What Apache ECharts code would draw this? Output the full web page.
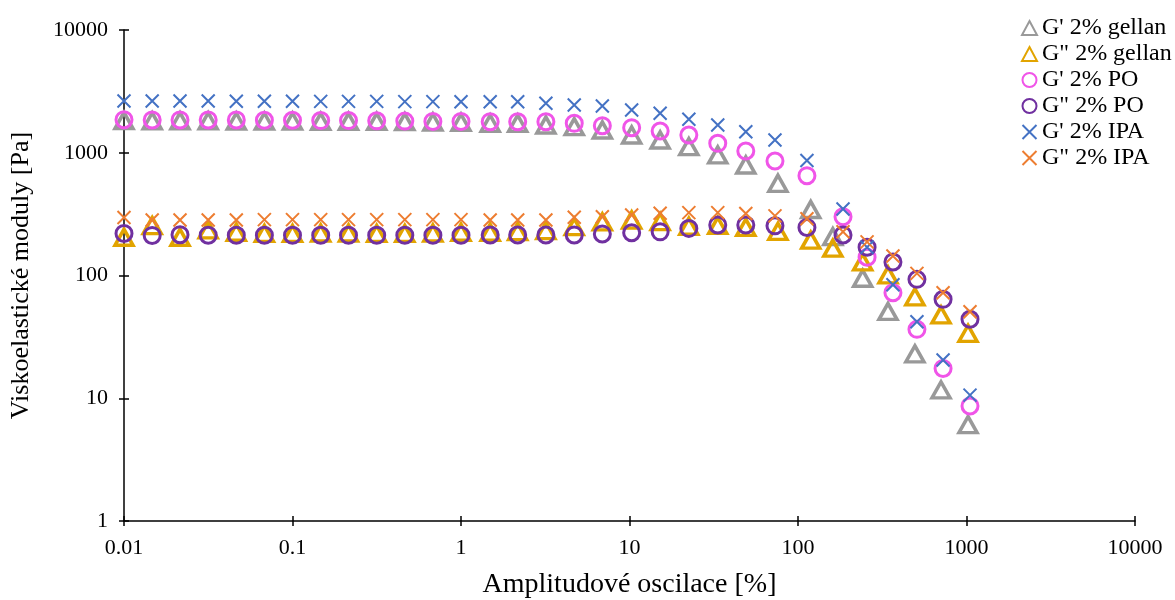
<!DOCTYPE html>
<html>
<head>
<meta charset="utf-8">
<script src="https://cdn.jsdelivr.net/npm/echarts@6/dist/echarts.min.js"></script>
<style>
  html, body { margin: 0; padding: 0; background: #fff; }
  #chart { width: 1175px; height: 600px; }
</style>
</head>
<body>
<div id="chart"></div>
<script>
// amplitude [%] - PO and IPA share the same strain points
const ampl = [0.01, 0.0147, 0.0215, 0.0316, 0.0464, 0.0681, 0.1, 0.147, 0.215, 0.316, 0.464, 0.681, 1,
  1.49, 2.17, 3.19, 4.7, 6.9, 10.3, 15.2, 22.5, 33.4, 49, 73, 113, 185, 257, 366, 508, 726, 1049]
const amplGellan = [0.01, 0.0147, 0.0215, 0.0316, 0.0464, 0.0681, 0.1, 0.147, 0.215, 0.316, 0.464, 0.681, 1,
  1.49, 2.17, 3.19, 4.7, 6.9, 10.3, 15.2, 22.5, 33.4, 49, 76, 119, 161, 242, 342, 494, 706, 1021]

// moduly [Pa]
const gpGellan = [1830, 1820, 1820, 1820, 1810, 1810, 1810, 1800, 1800, 1800, 1790, 1780, 1770,
  1738, 1738, 1683, 1631, 1532, 1395, 1270, 1120, 960, 795, 564, 345, 207, 95, 51, 23, 11.7, 6.1]
const gppGellan = [205, 255, 205, 235, 225, 220, 220, 222, 222, 220, 220, 222, 225,
  225, 228, 232, 250, 273, 283, 275, 252, 256, 247, 229, 194, 167, 129, 101, 67, 47.7, 33.8]
const gpPO = [1860, 1850, 1850, 1850, 1850, 1840, 1840, 1830, 1830, 1820, 1810, 1800, 1800,
  1790, 1790, 1790, 1738, 1661, 1600, 1504, 1395, 1194, 1033, 857, 650, 301, 141, 72.4, 36.4, 17.5, 8.65]
const gppPO = [220, 212, 215, 213, 213, 213, 213, 213, 213, 213, 213, 213, 213,
  214, 214, 214, 214, 218, 223, 227, 242, 258, 258, 254, 246, 214, 170, 129, 93, 64, 44]
const gpIPA = [2640, 2640, 2640, 2640, 2630, 2630, 2630, 2620, 2620, 2620, 2610, 2610, 2600,
  2606, 2600, 2530, 2449, 2404, 2230, 2096, 1873, 1683, 1484, 1270, 865, 348, 170, 84, 42, 20.5, 10.6]
const gppIPA = [297, 283, 283, 283, 283, 285, 285, 285, 285, 285, 285, 285, 285,
  283, 283, 283, 298, 301, 311, 321, 325, 325, 320, 306, 290, 227, 188, 144, 104, 72.4, 50.7]

const xTicks = [0.01, 0.1, 1, 10, 100, 1000, 10000]
const yTicks = [1, 10, 100, 1000, 10000]

const FONT = 'Liberation Serif'
const CROSS = 'path://M0,0L10,10M10,0L0,10'

function pairs(xs, ys) {
  return ys.map((y, i) => [xs[i], y])
}

function fmt(v) {
  return String(+v.toPrecision(6))
}

function mk(name, xs, ys, symbol, size, color, bw) {
  return {
    name: name,
    type: 'scatter',
    symbol: symbol,
    symbolSize: size,
    itemStyle: { color: 'rgba(0,0,0,0)', borderColor: color, borderWidth: bw, opacity: 1 },
    emphasis: { disabled: true },
    data: pairs(xs, ys)
  }
}

const chart = echarts.init(document.getElementById('chart'))

const axisCommon = {
  type: 'log',
  logBase: 10,
  splitLine: { show: false },
  axisLine: { lineStyle: { color: '#000', width: 1.5 } },
  axisTick: { length: 5, lineStyle: { color: '#000', width: 1.5 } }
}

chart.setOption({
  animation: false,
  textStyle: { fontFamily: FONT },
  grid: { left: 124, right: 40, top: 30, bottom: 79, outerBoundsMode: 'none' },
  legend: {
    orient: 'vertical',
    left: 1016,
    top: 11,
    itemWidth: 15,
    itemHeight: 14,
    itemGap: 2,
    textStyle: { fontFamily: FONT, fontSize: 24, color: '#000' }
  },
  xAxis: [
    Object.assign({}, axisCommon, {
      min: xTicks[0],
      max: xTicks[xTicks.length - 1],
      name: 'Amplitudové oscilace [%]',
      nameLocation: 'middle',
      nameGap: 50,
      nameTextStyle: { fontFamily: FONT, fontSize: 28, color: '#000' },
      axisLabel: { fontFamily: FONT, fontSize: 22, color: '#000', margin: 16, formatter: fmt }
    }),
    Object.assign({}, axisCommon, {
      min: xTicks[0],
      max: xTicks[xTicks.length - 1],
      position: 'bottom',
      axisLine: { show: false },
      axisTick: { inside: true, length: 5, lineStyle: { color: '#000', width: 1.5 } },
      axisLabel: { show: false }
    })
  ],
  yAxis: [
    Object.assign({}, axisCommon, {
      min: yTicks[0],
      max: yTicks[yTicks.length - 1],
      name: 'Viskoelastické moduly [Pa]',
      nameLocation: 'middle',
      nameGap: 90,
      nameTextStyle: { fontFamily: FONT, fontSize: 26, color: '#000' },
      axisLabel: { fontFamily: FONT, fontSize: 22, color: '#000', margin: 16, formatter: fmt }
    }),
    Object.assign({}, axisCommon, {
      min: yTicks[0],
      max: yTicks[yTicks.length - 1],
      position: 'left',
      axisLine: { show: false },
      axisTick: { inside: true, length: 5, lineStyle: { color: '#000', width: 1.5 } },
      axisLabel: { show: false }
    })
  ],
  series: [
    mk("G' 2% gellan", amplGellan, gpGellan, 'triangle', [18, 16], '#999999', 3.5),
    mk('G" 2% gellan', amplGellan, gppGellan, 'triangle', [18, 16], '#E2A400', 3.5),
    mk("G' 2% PO", ampl, gpPO, 'circle', 16, '#F055E8', 3),
    mk('G" 2% PO', ampl, gppPO, 'circle', 16, '#7030A0', 3),
    mk("G' 2% IPA", ampl, gpIPA, CROSS, 13, '#4472C4', 2),
    mk('G" 2% IPA', ampl, gppIPA, CROSS, 13, '#ED7D31', 2)
  ]
})
</script>
</body>
</html>
